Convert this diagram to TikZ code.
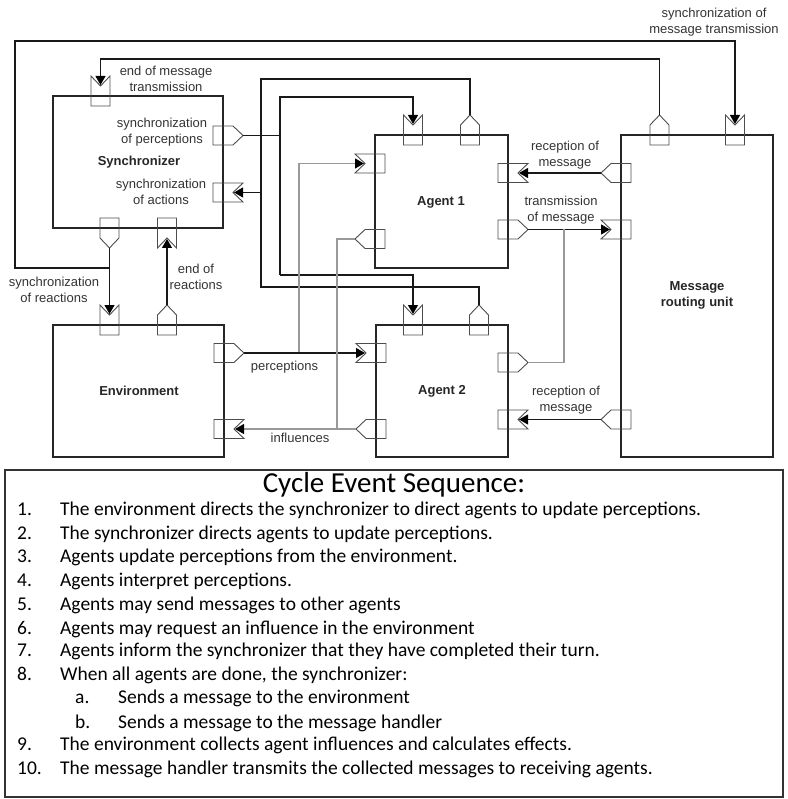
\documentclass[tikz,border=0pt]{standalone}
\usepackage{fontspec}
\setmainfont{Liberation Sans}
\newfontfamily\listfont{Carlito}
\usetikzlibrary{arrows.meta}

\tikzset{
  blk/.style={draw=black!85, line width=1.1pt},
  lbl/.style={font=\fontsize{13}{16}\selectfont, text=black!80, align=center, inner sep=0pt},
  ttl/.style={font=\fontsize{13}{16}\selectfont\bfseries, text=black!85, align=center, inner sep=0pt},
  wire/.style={draw=black!90, line width=1.1pt},
  gwire/.style={draw=black!40, line width=1.1pt},
  arr/.style={-{Triangle[length=9pt,width=10pt,color=black]}},
  portline/.style={draw=black!70, line width=0.9pt},
  pics/outport/.style={code={
     \draw[portline] (-10,-9.5) -- (10,-9.5) -- (20,0) -- (10,9.5) -- (-10,9.5) -- cycle;
     \coordinate (-tip) at (20,0);}},
  pics/inport/.style={code={
     \draw[portline] (-10,-9.5) -- (20,-9.5) -- (10,0) -- (20,9.5) -- (-10,9.5) -- cycle;
     \coordinate (-notch) at (11,0);}},
  itm/.style={font=\listfont\fontsize{19.5}{23.5}\selectfont, anchor=mid west, inner sep=0pt, text=black},
}

\begin{document}
\begin{tikzpicture}[x=1pt,y=-1pt]
\useasboundingbox (0,0) rectangle (787,799);

% ---------- blocks ----------
\node[blk, minimum width=170pt, minimum height=132pt, inner sep=0pt] (sync) at (138,162) {};
\node[blk, minimum width=171pt, minimum height=132pt, inner sep=0pt] (env) at (138.5,391) {};
\node[blk, minimum width=133pt, minimum height=133pt, inner sep=0pt] (ag1) at (441.5,201.5) {};
\node[blk, minimum width=132pt, minimum height=132pt, inner sep=0pt] (ag2) at (442,391) {};
\node[blk, minimum width=152pt, minimum height=322pt, inner sep=0pt] (mru) at (697,296) {};

% ---------- ports ----------
% synchronizer
\pic[rotate=90]  (sti) at (100.5,96)  {inport};
\pic             (spo) at (223,135.5) {outport};
\pic             (sai) at (223,192.5) {inport};
\pic[rotate=-90] (sro) at (109.5,228) {outport};
\pic[rotate=-90] (sri) at (167,228)   {inport};
% environment
\pic[rotate=90]  (eti) at (109.5,325) {inport};
\pic[rotate=90]  (eto) at (167,325)   {outport};
\pic             (epo) at (224,353)   {outport};
\pic             (eii) at (224,429)   {inport};
% agent 1
\pic[rotate=90]  (a1ti) at (413,135)   {inport};
\pic[rotate=90]  (a1to) at (470,135)   {outport};
\pic[rotate=180] (a1li) at (375,163.5) {inport};
\pic[rotate=180] (a1lo) at (375,239)   {outport};
\pic             (a1ri) at (508,173)   {inport};
\pic             (a1ro) at (508,229.5) {outport};
% agent 2
\pic[rotate=90]  (a2ti) at (413,325)   {inport};
\pic[rotate=90]  (a2to) at (479,325)   {outport};
\pic[rotate=180] (a2li) at (376,353)   {inport};
\pic[rotate=180] (a2lo) at (376,429)   {outport};
\pic             (a2ro) at (508,362.5) {outport};
\pic             (a2ri) at (508,419.5) {inport};
% message routing unit
\pic[rotate=90]  (mto) at (659.5,135) {outport};
\pic[rotate=90]  (mti) at (735,135)   {inport};
\pic[rotate=180] (mlo) at (621,173)   {outport};
\pic[rotate=180] (mli) at (621,229.5) {inport};
\pic[rotate=180] (mlo2) at (621,419.5) {outport};

% ---------- junction coordinates ----------
\coordinate (j1) at (109.5,268);
\coordinate (j2) at (280,135.5);
\coordinate (j3) at (261,192.5);
\coordinate (j4) at (299,353);
\coordinate (j5) at (337,429);
\coordinate (j6) at (564,229.5);

% ---------- connectors ----------
% synchronization of reactions + synchronization of message transmission
\draw[wire,arr] (sro-tip) -- (eti-notch);
\draw[wire,arr] (j1) -- (15,268) -- (15,41) -- (mti-notch |- 0,41) -- (mti-notch);
% end of reactions
\draw[wire,arr] (eto-tip) -- (sri-notch);
% end of message transmission
\draw[wire,arr] (mto-tip) -- (mto-tip |- 0,59) -- (sti-notch |- 0,59) -- (sti-notch);
% synchronization of perceptions
\draw[wire] (spo-tip) -- (j2);
\draw[wire,arr] (280,275) -- (280,97) -- (a1ti-notch |- 0,97) -- (a1ti-notch);
\draw[wire,arr] (280,275) -- (a2ti-notch |- 0,275) -- (a2ti-notch);
% synchronization of actions
\draw[wire] (a1to-tip) -- (a1to-tip |- 0,79) -- (261,79) -- (261,287) -- (a2to-tip |- 0,287) -- (a2to-tip);
\draw[wire,arr] (j3) -- (sai-notch);
% perceptions
\draw[gwire,arr] (j4) -- (299,163.5) -- (a1li-notch);
\draw[wire,arr] (epo-tip) -- (a2li-notch);
% influences
\draw[gwire,arr] (a2lo-tip) -- (eii-notch);
\draw[gwire] (j5) -- (337,239) -- (a1lo-tip);
% transmission of message
\draw[wire,arr] (a1ro-tip) -- (mli-notch);
\draw[gwire] (a2ro-tip) -- (564,362.5) -- (j6);
% reception of message
\draw[wire,arr] (mlo-tip) -- (a1ri-notch);
\draw[wire,arr] (mlo2-tip) -- (a2ri-notch);

% ---------- labels ----------
\node[ttl] (tsync) at (139,162) {Synchronizer};
\node[ttl] (tenv) at (139,391) {Environment};
\node[ttl] (tag1) at (441,202) {Agent 1};
\node[ttl] (tag2) at (442,391) {Agent 2};
\node[ttl] (tmru) at (697,295.5) {Message\\routing unit};

\node[lbl] (lsmt) at (714,22)    {synchronization of\\message transmission};
\node[lbl] (lemt) at (166,78.5)  {end of message\\transmission};
\node[lbl] (lsop) at (162,132)   {synchronization\\of perceptions};
\node[lbl] (lsoa) at (161,192)   {synchronization\\of actions};
\node[lbl] (lsor) at (54,290)    {synchronization\\of reactions};
\node[lbl] (leor) at (196,277)   {end of\\reactions};
\node[lbl] (lrm1) at (565,155)   {reception of\\message};
\node[lbl] (ltm)  at (561,210.5) {transmission\\of message};
\node[lbl] (lrm2) at (566,400)   {reception of\\message};
\node[lbl] (lper) at (284.5,367) {perceptions};
\node[lbl] (linf) at (300,438)   {influences};

% ---------- cycle event sequence ----------
\draw[draw=black!80, line width=2pt] (5,470) rectangle (783,797);
\node[font=\listfont\fontsize{29}{34}\selectfont, inner sep=0pt] (ctitle) at (394,485) {Cycle Event Sequence:};

\node[itm] (n1) at (17,513) {1.};  \node[itm] (t1) at (60,513) {The environment directs the synchronizer to direct agents to update perceptions.};
\node[itm] (n2) at (17,537) {2.};  \node[itm] (t2) at (60,537) {The synchronizer directs agents to update perceptions.};
\node[itm] (n3) at (17,560) {3.};  \node[itm] (t3) at (60,560) {Agents update perceptions from the environment.};
\node[itm] (n4) at (17,584) {4.};  \node[itm] (t4) at (60,584) {Agents interpret perceptions.};
\node[itm] (n5) at (17,608) {5.};  \node[itm] (t5) at (60,608) {Agents may send messages to other agents};
\node[itm] (n6) at (17,632) {6.};  \node[itm] (t6) at (60,632) {Agents may request an influence in the environment};
\node[itm] (n7) at (17,654) {7.};  \node[itm] (t7) at (60,654) {Agents inform the synchronizer that they have completed their turn.};
\node[itm] (n8) at (17,678) {8.};  \node[itm] (t8) at (60,678) {When all agents are done, the synchronizer:};
\node[itm] (na) at (75,701) {a.};  \node[itm] (ta) at (118,701) {Sends a message to the environment};
\node[itm] (nb) at (75,726) {b.};  \node[itm] (tb) at (118,726) {Sends a message to the message handler};
\node[itm] (n9) at (17,748) {9.};  \node[itm] (t9) at (60,748) {The environment collects agent influences and calculates effects.};
\node[itm] (n10) at (17,772) {10.}; \node[itm] (t10) at (60,772) {The message handler transmits the collected messages to receiving agents.};
\end{tikzpicture}
\end{document}
